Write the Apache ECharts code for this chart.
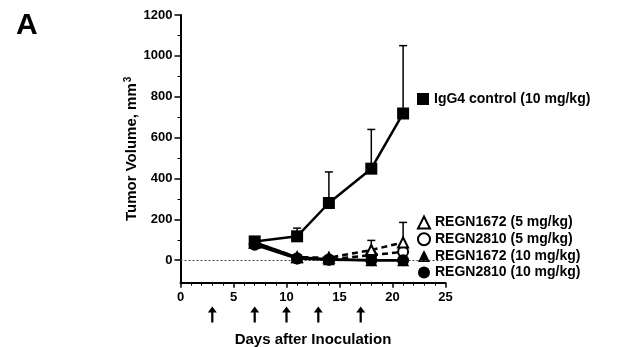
<!DOCTYPE html>
<html><head><meta charset="utf-8">
<script src="https://cdn.jsdelivr.net/npm/echarts@6/dist/echarts.min.js"></script>
<style>html,body{margin:0;padding:0;background:#fff}#c{width:617px;height:347px}</style>
</head><body><div id="c"></div>
<script>
const days = [7, 11, 14, 18, 21];
const igg4 = [92, 117, 280, 448, 718];
const igg4Err = [null, 157, 432, 640, 1050];
const r1672_5 = [85, 15, 12, 50, 87];
const r1672_5Err = [null, null, null, 97, 185];
const r2810_5 = [80, 9, 4, 25, 41];
const r1672_10 = [88, 14, 5, 0, 0];
const r2810_10 = [76, 8, 2, 0, 0];
const doseDays = [3, 7, 10, 13, 17];
const yTicks = [0, 200, 400, 600, 800, 1000, 1200];
const yMinorTicks = [100, 300, 500, 700, 900, 1100];
const names = ['IgG4 control (10 mg/kg)', 'REGN1672 (5 mg/kg)', 'REGN2810 (5 mg/kg)', 'REGN1672 (10 mg/kg)', 'REGN2810 (10 mg/kg)'];

const FONT = 'Liberation Sans, Arial, sans-serif';
const pair = (vals) => days.map((d, i) => [d, vals[i]]);
const errData = (vals, errs) => days.map((d, i) => errs[i] == null ? null : [d, vals[i], errs[i]]).filter(Boolean);

function errSeries(vals, errs, z) {
  return {
    type: 'custom', xAxisIndex: 0, yAxisIndex: 0, z: z, silent: true,
    data: errData(vals, errs),
    renderItem: function (params, api) {
      const p0 = api.coord([api.value(0), api.value(1)]);
      const p1 = api.coord([api.value(0), api.value(2)]);
      return { type: 'group', children: [
        { type: 'line', shape: { x1: p0[0], y1: p0[1], x2: p1[0], y2: p1[1] }, style: { stroke: '#000', lineWidth: 1.5 } },
        { type: 'line', shape: { x1: p1[0] - 4, y1: p1[1], x2: p1[0] + 4, y2: p1[1] }, style: { stroke: '#000', lineWidth: 1.5 } }
      ]};
    }
  };
}

function lineSeries(name, vals, symbol, open, dashed, z) {
  return {
    name: name, type: 'line', xAxisIndex: 0, yAxisIndex: 0, z: z,
    data: pair(vals), symbol: symbol, symbolSize: open ? 10 : 12, showSymbol: true,
    lineStyle: { color: '#000', width: 2.5, type: dashed ? [6, 4] : 'solid' },
    itemStyle: open ? { color: '#fff', borderColor: '#000', borderWidth: 2 } : { color: '#000', borderColor: '#000', borderWidth: 0 },
    emphasis: { disabled: true }, animation: false
  };
}

const legendText = { fontFamily: FONT, fontSize: 14, fontWeight: 'bold', color: '#000', lineHeight: 12 };

const chart = echarts.init(document.getElementById('c'), null, { renderer: 'canvas' });
chart.setOption({
  animation: false,
  backgroundColor: '#fff',
  title: { text: 'A', left: 11, top: 6, textStyle: { fontFamily: FONT, fontSize: 30, fontWeight: 'bold', color: '#000' } },
  grid: [
    { left: 180.5, width: 265, top: 15, bottom: 64.3, outerBoundsMode: 'none', containLabel: false },
    { left: 180.5, width: 265, top: 306, height: 17, outerBoundsMode: 'none', containLabel: false }
  ],
  xAxis: [
    { type: 'value', gridIndex: 0, min: 0, max: 25, interval: 5,
      name: 'Days after Inoculation', nameLocation: 'middle', nameGap: 50,
      nameTextStyle: { fontFamily: FONT, fontSize: 15, fontWeight: 'bold', color: '#000' },
      axisLine: { onZero: false, lineStyle: { color: '#000', width: 2 } },
      axisTick: { show: true, length: 5, lineStyle: { color: '#000', width: 1.5 } },
      minorTick: { show: true, splitNumber: 5, length: 3, lineStyle: { color: '#000', width: 1 } },
      axisLabel: { margin: 8, fontFamily: FONT, fontSize: 13, fontWeight: 'bold', color: '#000' },
      splitLine: { show: false } },
    { type: 'value', gridIndex: 1, min: 0, max: 25, show: false }
  ],
  yAxis: [
    { type: 'value', gridIndex: 0, min: -110, max: 1200,
      name: 'Tumor Volume, mm{s|3}', nameLocation: 'middle', nameGap: 39, nameRotate: 90,
      nameTextStyle: { fontFamily: FONT, fontSize: 15, fontWeight: 'bold', color: '#000',
        rich: { s: { fontFamily: FONT, fontSize: 10, fontWeight: 'bold', color: '#000', verticalAlign: 'top', padding: [0, 0, 8, 1] } } },
      axisLine: { onZero: false, lineStyle: { color: '#000', width: 2 } },
      axisTick: { show: true, length: 6, customValues: yTicks, lineStyle: { color: '#000', width: 1.5 } },
      axisLabel: { margin: 8, customValues: yTicks, formatter: v => String(v), fontFamily: FONT, fontSize: 13, fontWeight: 'bold', color: '#000' },
      splitLine: { show: false } },
    { type: 'value', gridIndex: 0, min: -110, max: 1200, position: 'left',
      axisLine: { show: false },
      axisTick: { show: true, length: 3, customValues: yMinorTicks, lineStyle: { color: '#000', width: 1 } },
      axisLabel: { show: false }, splitLine: { show: false } },
    { type: 'value', gridIndex: 1, min: 0, max: 1, show: false }
  ],
  legend: [
    { data: [{ name: names[0], icon: 'rect' }], left: 417, top: 92, orient: 'vertical', padding: 0,
      itemWidth: 12, itemHeight: 12, itemGap: 5, selectedMode: false, textStyle: legendText },
    { data: [
        { name: names[1], icon: 'triangle' },
        { name: names[2], icon: 'circle' },
        { name: names[3], icon: 'triangle' },
        { name: names[4], icon: 'circle' }
      ], left: 417, top: 215.5, orient: 'vertical', padding: 0,
      itemWidth: 12, itemHeight: 12, itemGap: 2.7, selectedMode: false, textStyle: legendText }
  ],
  series: [
    errSeries(igg4, igg4Err, 1),
    errSeries(r1672_5, r1672_5Err, 1),
    lineSeries(names[0], igg4, 'rect', false, false, 2),
    lineSeries(names[3], r1672_10, 'triangle', false, false, 3),
    lineSeries(names[2], r2810_5, 'circle', true, true, 4),
    lineSeries(names[1], r1672_5, 'triangle', true, true, 5),
    Object.assign(lineSeries(names[4], r2810_10, 'circle', false, false, 6), {
      markLine: { silent: true, symbol: 'none', label: { show: false },
        lineStyle: { color: '#444', type: [2, 2], width: 1 },
        data: [[{ coord: [0, 0] }, { coord: [24.9, 0] }]] } }),
    { type: 'scatter', xAxisIndex: 1, yAxisIndex: 2, silent: true,
      data: doseDays.map(d => [d, 0.5]),
      symbol: 'path://M4,0 L8,6 L5,6 L5,16 L3,16 L3,6 L0,6 Z', symbolSize: [9, 16],
      itemStyle: { color: '#000', opacity: 1 } }
  ]
});
</script></body></html>
